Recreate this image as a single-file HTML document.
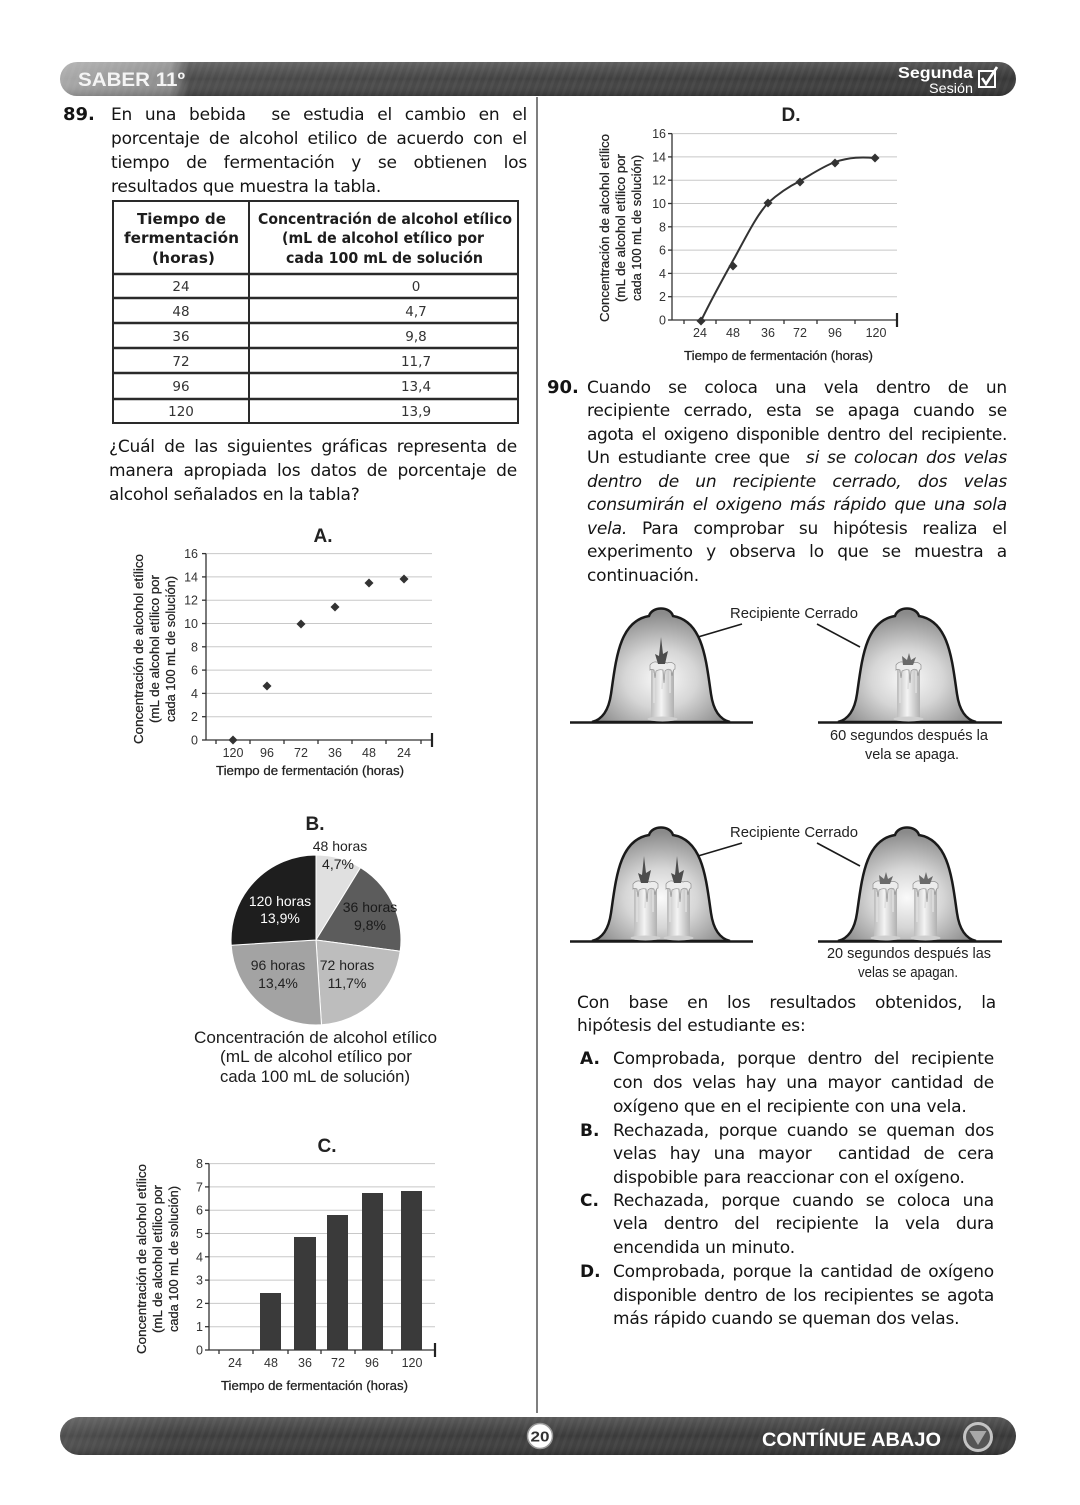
<!DOCTYPE html>
<html lang="es">
<head>
<meta charset="utf-8">
<style>
  html,body{margin:0;padding:0;background:#fff;}
  body{width:1080px;height:1505px;position:relative;overflow:hidden;}
  svg{position:absolute;left:0;top:0;}
  .l{position:absolute;font-family:"DejaVu Sans","Liberation Sans",sans-serif;font-size:17px;letter-spacing:-0.2px;line-height:24px;height:24px;color:#141414;white-space:nowrap;}
  .j{text-align:justify;text-align-last:justify;white-space:normal;}
  .b{font-weight:bold;font-size:18px;letter-spacing:0;}
  .ob{font-weight:bold;font-size:17px;letter-spacing:0;}
  i{font-style:italic;}
</style>
</head>
<body>
<svg width="1080" height="1505" viewBox="0 0 1080 1505" xmlns="http://www.w3.org/2000/svg">
  <defs>
    <linearGradient id="hg" x1="0" y1="0" x2="1" y2="0">
      <stop offset="0" stop-color="#a8a8a8"/>
      <stop offset="0.115" stop-color="#8c8c8c"/>
      <stop offset="0.135" stop-color="#4a4a4a"/>
      <stop offset="1" stop-color="#363636"/>
    </linearGradient>
    <linearGradient id="fg" x1="0" y1="0" x2="1" y2="0">
      <stop offset="0" stop-color="#4e4e4e"/>
      <stop offset="0.12" stop-color="#3d3d3d"/>
      <stop offset="1" stop-color="#383838"/>
    </linearGradient>
    <linearGradient id="hv" x1="0" y1="0" x2="0" y2="1">
      <stop offset="0" stop-color="#ffffff" stop-opacity="0.16"/>
      <stop offset="0.5" stop-color="#ffffff" stop-opacity="0"/>
      <stop offset="1" stop-color="#000000" stop-opacity="0.18"/>
    </linearGradient>
    <pattern id="st" width="7" height="7" patternUnits="userSpaceOnUse" patternTransform="rotate(20)">
      <rect width="3" height="7" fill="#ffffff" fill-opacity="0.035"/>
    </pattern>
    <radialGradient id="bg" cx="0.5" cy="0.62" r="0.58">
      <stop offset="0" stop-color="#fafafa"/>
      <stop offset="0.45" stop-color="#d6d6d6"/>
      <stop offset="1" stop-color="#8a8a8a"/>
    </radialGradient>
    <linearGradient id="cg" x1="0" y1="0" x2="1" y2="0">
      <stop offset="0" stop-color="#bdbdbd"/>
      <stop offset="0.45" stop-color="#f4f4f4"/>
      <stop offset="1" stop-color="#b0b0b0"/>
    </linearGradient>
    <path id="bell" d="M592,722 C604,719 609,708 611,694 C616,660 619,621 649,616 C652,606 670,606 673,616 C703,621 706,660 711,694 C713,708 718,719 730,722 Z" fill="url(#bg)" stroke="#1a1a1a" stroke-width="2.5"/>
    <g id="cand">
      <rect x="0" y="3" width="23" height="55" fill="url(#cg)"/>
      <path d="M3,12 L3,42 M19,10 L19,32 M12,9 L11,28" stroke="#dedede" stroke-width="1.6" fill="none"/>
      <path d="M-1,4 Q3,-1 8,2 Q12,0 16,2 Q21,0 24,4 L24,8 Q22,8 21,15 L20,9 Q17,7 14,10 L13,22 L12,9 Q8,8 5,10 L4,17 L3,9 Q0,8 -1,9 Z" fill="#ececec" stroke="#8f8f8f" stroke-width="0.7"/>
      <ellipse cx="11.5" cy="58" rx="15" ry="2.5" fill="#cfcfcf"/>
    </g>
    <path id="flame" d="M10,-24 L12,-7 L17,-10 L14,3 L7,3 L4,-7 L8,-5 Z" fill="#4d4d4d"/>
    <path id="smudge" d="M5,-5 L10,-1 L12,-8 L14,-1 L19,-4 L16,4 L6,4 Z" fill="#6a6a6a"/>
  </defs>

  <!-- HEADER -->
  <rect x="60" y="62" width="956" height="34" rx="17" fill="url(#hg)"/>
  <rect x="60" y="62" width="956" height="34" rx="17" fill="url(#st)"/>
  <rect x="60" y="62" width="956" height="34" rx="17" fill="url(#hv)"/>
  <text x="78" y="86" font-family="Liberation Sans, sans-serif" font-weight="bold" font-size="19" fill="#f4f4f4" textLength="107" lengthAdjust="spacingAndGlyphs">SABER 11º</text>
  <text x="898" y="78" font-family="Liberation Sans, sans-serif" font-weight="bold" font-size="16" fill="#ffffff" textLength="75" lengthAdjust="spacingAndGlyphs">Segunda</text>
  <text x="929" y="93" font-family="Liberation Sans, sans-serif" font-size="13.5" fill="#ffffff" textLength="44" lengthAdjust="spacingAndGlyphs">Sesión</text>
  <rect x="979" y="71" width="16" height="16" fill="none" stroke="#ffffff" stroke-width="2"/>
  <path d="M982,78 L986,84 L997,67" fill="none" stroke="#ffffff" stroke-width="2.6"/>

  <!-- column divider -->
  <line x1="537" y1="97" x2="537" y2="1413" stroke="#555" stroke-width="1.5"/>

  <!-- TABLE -->
  <rect x="113" y="201" width="405" height="222" fill="none" stroke="#2a2a2a" stroke-width="2"/>
  <line x1="249" y1="201" x2="249" y2="423" stroke="#2a2a2a" stroke-width="2"/>
  <g stroke="#2a2a2a" stroke-width="2.4">
    <line x1="113" y1="274" x2="518" y2="274"/>
    <line x1="113" y1="298" x2="518" y2="298"/>
    <line x1="113" y1="323" x2="518" y2="323"/>
    <line x1="113" y1="348" x2="518" y2="348"/>
    <line x1="113" y1="373" x2="518" y2="373"/>
    <line x1="113" y1="399" x2="518" y2="399"/>
  </g>
  <g font-family="DejaVu Sans, sans-serif" font-weight="bold" font-size="15" fill="#1c1c1c">
    <text x="137" y="224" textLength="89" lengthAdjust="spacingAndGlyphs">Tiempo de</text>
    <text x="124" y="243" textLength="115" lengthAdjust="spacingAndGlyphs">fermentación</text>
    <text x="152" y="263" textLength="63" lengthAdjust="spacingAndGlyphs">(horas)</text>
    <text x="258" y="224" textLength="254" lengthAdjust="spacingAndGlyphs">Concentración de alcohol etílico</text>
    <text x="282" y="243" textLength="202" lengthAdjust="spacingAndGlyphs">(mL de alcohol etílico por</text>
    <text x="286" y="263" textLength="197" lengthAdjust="spacingAndGlyphs">cada 100 mL de solución</text>
  </g>
  <g font-family="DejaVu Sans, sans-serif" font-size="13.5" fill="#333" text-anchor="middle">
    <text x="181" y="291">24</text><text x="416" y="291">0</text>
    <text x="181" y="316">48</text><text x="416" y="316">4,7</text>
    <text x="181" y="341">36</text><text x="416" y="341">9,8</text>
    <text x="181" y="366">72</text><text x="416" y="366">11,7</text>
    <text x="181" y="391">96</text><text x="416" y="391">13,4</text>
    <text x="181" y="416">120</text><text x="416" y="416">13,9</text>
  </g>

  <!-- CHART A -->
  <text x="323" y="542" text-anchor="middle" font-family="Liberation Sans, sans-serif" font-weight="bold" font-size="19" fill="#222">A.</text>
  <g stroke="#c8c8c8" stroke-width="1">
    <line x1="206" y1="716.7" x2="432" y2="716.7"/>
    <line x1="206" y1="693.4" x2="432" y2="693.4"/>
    <line x1="206" y1="670.1" x2="432" y2="670.1"/>
    <line x1="206" y1="646.8" x2="432" y2="646.8"/>
    <line x1="206" y1="623.5" x2="432" y2="623.5"/>
    <line x1="206" y1="600.2" x2="432" y2="600.2"/>
    <line x1="206" y1="576.9" x2="432" y2="576.9"/>
    <line x1="206" y1="553.6" x2="432" y2="553.6"/>
  </g>
  <g stroke="#333" stroke-width="1.3">
    <line x1="206" y1="553.6" x2="206" y2="740"/>
    <line x1="206" y1="740" x2="432" y2="740"/>
    <line x1="202" y1="740" x2="206" y2="740"/>
    <line x1="202" y1="716.7" x2="206" y2="716.7"/>
    <line x1="202" y1="693.4" x2="206" y2="693.4"/>
    <line x1="202" y1="670.1" x2="206" y2="670.1"/>
    <line x1="202" y1="646.8" x2="206" y2="646.8"/>
    <line x1="202" y1="623.5" x2="206" y2="623.5"/>
    <line x1="202" y1="600.2" x2="206" y2="600.2"/>
    <line x1="202" y1="576.9" x2="206" y2="576.9"/>
    <line x1="202" y1="553.6" x2="206" y2="553.6"/>
    <line x1="216" y1="740" x2="216" y2="744"/>
    <line x1="250" y1="740" x2="250" y2="744"/>
    <line x1="284" y1="740" x2="284" y2="744"/>
    <line x1="318" y1="740" x2="318" y2="744"/>
    <line x1="352" y1="740" x2="352" y2="744"/>
    <line x1="386" y1="740" x2="386" y2="744"/>
    <line x1="421" y1="740" x2="421" y2="744"/>
  </g>
  <line x1="432" y1="733" x2="432" y2="747" stroke="#222" stroke-width="2.2"/>
  <g font-family="Liberation Sans, sans-serif" font-size="12.5" fill="#333" text-anchor="end">
    <text x="198" y="744.5">0</text><text x="198" y="721.2">2</text><text x="198" y="697.9">4</text>
    <text x="198" y="674.6">6</text><text x="198" y="651.3">8</text><text x="198" y="628">10</text>
    <text x="198" y="604.7">12</text><text x="198" y="581.4">14</text><text x="198" y="558.1">16</text>
  </g>
  <g font-family="Liberation Sans, sans-serif" font-size="12.5" fill="#333" text-anchor="middle">
    <text x="233" y="757">120</text><text x="267" y="757">96</text><text x="301" y="757">72</text>
    <text x="335" y="757">36</text><text x="369" y="757">48</text><text x="404" y="757">24</text>
  </g>
  <g fill="#333">
    <polygon points="233,735.5 237.5,740 233,744.5 228.5,740"/>
    <polygon points="267,681.5 271.5,686 267,690.5 262.5,686"/>
    <polygon points="301,619.5 305.5,624 301,628.5 296.5,624"/>
    <polygon points="335,602.5 339.5,607 335,611.5 330.5,607"/>
    <polygon points="369,578.5 373.5,583 369,587.5 364.5,583"/>
    <polygon points="404,574.5 408.5,579 404,583.5 399.5,579"/>
  </g>
  <text x="216" y="775" font-family="Liberation Sans, sans-serif" font-size="13" fill="#222" stroke="#222" stroke-width="0.25" textLength="188" lengthAdjust="spacingAndGlyphs">Tiempo de fermentación (horas)</text>
  <g font-family="Liberation Sans, sans-serif" font-size="12.5" fill="#222" stroke="#222" stroke-width="0.25">
    <text transform="translate(143,649) rotate(-90)" x="-95" y="0" textLength="190" lengthAdjust="spacingAndGlyphs">Concentración de alcohol etílico</text>
    <text transform="translate(159,649) rotate(-90)" x="-74" y="0" textLength="148" lengthAdjust="spacingAndGlyphs">(mL de alcohol etílico por</text>
    <text transform="translate(175,649) rotate(-90)" x="-73" y="0" textLength="146" lengthAdjust="spacingAndGlyphs">cada 100 mL de solución)</text>
  </g>

  <!-- CHART B (pie) -->
  <text x="315" y="830" text-anchor="middle" font-family="Liberation Sans, sans-serif" font-weight="bold" font-size="19" fill="#222">B.</text>
  <g stroke="#ffffff" stroke-width="1">
    <path d="M316,940 L316,855 A85,85 0 0 1 360.5,867.6 Z" fill="#e0e0e0"/>
    <path d="M316,940 L360.5,867.6 A85,85 0 0 1 400.2,951.2 Z" fill="#5c5c5c"/>
    <path d="M316,940 L400.2,951.2 A85,85 0 0 1 321.5,1024.8 Z" fill="#bdbdbd"/>
    <path d="M316,940 L321.5,1024.8 A85,85 0 0 1 231.2,945.2 Z" fill="#a3a3a3"/>
    <path d="M316,940 L231.2,945.2 A85,85 0 0 1 316,855 Z" fill="#1e1e1e"/>
  </g>
  <g font-family="Liberation Sans, sans-serif" font-size="14" text-anchor="middle">
    <text x="340" y="851" fill="#222">48 horas</text>
    <text x="338" y="869" fill="#222">4,7%</text>
    <text x="280" y="906" fill="#ffffff">120 horas</text>
    <text x="280" y="923" fill="#ffffff">13,9%</text>
    <text x="370" y="912" fill="#1a1a1a">36 horas</text>
    <text x="370" y="930" fill="#1a1a1a">9,8%</text>
    <text x="278" y="970" fill="#222">96 horas</text>
    <text x="278" y="988" fill="#222">13,4%</text>
    <text x="347" y="970" fill="#222">72 horas</text>
    <text x="347" y="988" fill="#222">11,7%</text>
  </g>
  <g font-family="Liberation Sans, sans-serif" font-size="17" fill="#1c1c1c">
    <text x="194" y="1043" textLength="243" lengthAdjust="spacingAndGlyphs">Concentración de alcohol etílico</text>
    <text x="220" y="1062" textLength="192" lengthAdjust="spacingAndGlyphs">(mL de alcohol etílico por</text>
    <text x="220" y="1082" textLength="190" lengthAdjust="spacingAndGlyphs">cada 100 mL de solución)</text>
  </g>

  <!-- CHART C -->
  <text x="327" y="1152" text-anchor="middle" font-family="Liberation Sans, sans-serif" font-weight="bold" font-size="19" fill="#222">C.</text>
  <g stroke="#c8c8c8" stroke-width="1">
    <line x1="209" y1="1326.7" x2="435" y2="1326.7"/>
    <line x1="209" y1="1303.4" x2="435" y2="1303.4"/>
    <line x1="209" y1="1280.1" x2="435" y2="1280.1"/>
    <line x1="209" y1="1256.8" x2="435" y2="1256.8"/>
    <line x1="209" y1="1233.5" x2="435" y2="1233.5"/>
    <line x1="209" y1="1210.2" x2="435" y2="1210.2"/>
    <line x1="209" y1="1186.9" x2="435" y2="1186.9"/>
    <line x1="209" y1="1163.6" x2="435" y2="1163.6"/>
  </g>
  <g fill="#3a3a3a">
    <rect x="260" y="1293" width="21" height="57"/>
    <rect x="294" y="1237" width="22" height="113"/>
    <rect x="327" y="1215" width="21" height="135"/>
    <rect x="362" y="1193" width="21" height="157"/>
    <rect x="401" y="1191" width="21" height="159"/>
  </g>
  <g stroke="#333" stroke-width="1.3">
    <line x1="209" y1="1163.6" x2="209" y2="1350"/>
    <line x1="209" y1="1350" x2="435" y2="1350"/>
    <line x1="205" y1="1350" x2="209" y2="1350"/>
    <line x1="205" y1="1326.7" x2="209" y2="1326.7"/>
    <line x1="205" y1="1303.4" x2="209" y2="1303.4"/>
    <line x1="205" y1="1280.1" x2="209" y2="1280.1"/>
    <line x1="205" y1="1256.8" x2="209" y2="1256.8"/>
    <line x1="205" y1="1233.5" x2="209" y2="1233.5"/>
    <line x1="205" y1="1210.2" x2="209" y2="1210.2"/>
    <line x1="205" y1="1186.9" x2="209" y2="1186.9"/>
    <line x1="205" y1="1163.6" x2="209" y2="1163.6"/>
    <line x1="219" y1="1350" x2="219" y2="1354"/>
    <line x1="253" y1="1350" x2="253" y2="1354"/>
    <line x1="288" y1="1350" x2="288" y2="1354"/>
    <line x1="321" y1="1350" x2="321" y2="1354"/>
    <line x1="355" y1="1350" x2="355" y2="1354"/>
    <line x1="392" y1="1350" x2="392" y2="1354"/>
  </g>
  <line x1="435" y1="1343" x2="435" y2="1357" stroke="#222" stroke-width="2.2"/>
  <g font-family="Liberation Sans, sans-serif" font-size="12.5" fill="#333" text-anchor="end">
    <text x="203" y="1354.5">0</text><text x="203" y="1331.2">1</text><text x="203" y="1307.9">2</text>
    <text x="203" y="1284.6">3</text><text x="203" y="1261.3">4</text><text x="203" y="1238">5</text>
    <text x="203" y="1214.7">6</text><text x="203" y="1191.4">7</text><text x="203" y="1168.1">8</text>
  </g>
  <g font-family="Liberation Sans, sans-serif" font-size="12.5" fill="#333" text-anchor="middle">
    <text x="235" y="1367">24</text><text x="271" y="1367">48</text><text x="305" y="1367">36</text>
    <text x="338" y="1367">72</text><text x="372" y="1367">96</text><text x="412" y="1367">120</text>
  </g>
  <text x="221" y="1390" font-family="Liberation Sans, sans-serif" font-size="13" fill="#222" stroke="#222" stroke-width="0.25" textLength="187" lengthAdjust="spacingAndGlyphs">Tiempo de fermentación (horas)</text>
  <g font-family="Liberation Sans, sans-serif" font-size="12.5" fill="#222" stroke="#222" stroke-width="0.25">
    <text transform="translate(146,1259) rotate(-90)" x="-95" y="0" textLength="190" lengthAdjust="spacingAndGlyphs">Concentración de alcohol etílico</text>
    <text transform="translate(162,1259) rotate(-90)" x="-74" y="0" textLength="148" lengthAdjust="spacingAndGlyphs">(mL de alcohol etílico por</text>
    <text transform="translate(178,1259) rotate(-90)" x="-73" y="0" textLength="146" lengthAdjust="spacingAndGlyphs">cada 100 mL de solución)</text>
  </g>

  <!-- CHART D -->
  <text x="791" y="121" text-anchor="middle" font-family="Liberation Sans, sans-serif" font-weight="bold" font-size="19" fill="#222">D.</text>
  <g stroke="#c8c8c8" stroke-width="1">
    <line x1="672" y1="296.7" x2="897" y2="296.7"/>
    <line x1="672" y1="273.4" x2="897" y2="273.4"/>
    <line x1="672" y1="250.1" x2="897" y2="250.1"/>
    <line x1="672" y1="226.8" x2="897" y2="226.8"/>
    <line x1="672" y1="203.5" x2="897" y2="203.5"/>
    <line x1="672" y1="180.2" x2="897" y2="180.2"/>
    <line x1="672" y1="156.9" x2="897" y2="156.9"/>
    <line x1="672" y1="133.6" x2="897" y2="133.6"/>
  </g>
  <g stroke="#333" stroke-width="1.3">
    <line x1="672" y1="133.6" x2="672" y2="320"/>
    <line x1="672" y1="320" x2="897" y2="320"/>
    <line x1="668" y1="320" x2="672" y2="320"/>
    <line x1="668" y1="296.7" x2="672" y2="296.7"/>
    <line x1="668" y1="273.4" x2="672" y2="273.4"/>
    <line x1="668" y1="250.1" x2="672" y2="250.1"/>
    <line x1="668" y1="226.8" x2="672" y2="226.8"/>
    <line x1="668" y1="203.5" x2="672" y2="203.5"/>
    <line x1="668" y1="180.2" x2="672" y2="180.2"/>
    <line x1="668" y1="156.9" x2="672" y2="156.9"/>
    <line x1="668" y1="133.6" x2="672" y2="133.6"/>
    <line x1="684" y1="320" x2="684" y2="324"/>
    <line x1="716" y1="320" x2="716" y2="324"/>
    <line x1="750" y1="320" x2="750" y2="324"/>
    <line x1="784" y1="320" x2="784" y2="324"/>
    <line x1="817" y1="320" x2="817" y2="324"/>
    <line x1="855" y1="320" x2="855" y2="324"/>
  </g>
  <line x1="897" y1="313" x2="897" y2="327" stroke="#222" stroke-width="2.2"/>
  <g font-family="Liberation Sans, sans-serif" font-size="12.5" fill="#333" text-anchor="end">
    <text x="666" y="324.5">0</text><text x="666" y="301.2">2</text><text x="666" y="277.9">4</text>
    <text x="666" y="254.6">6</text><text x="666" y="231.3">8</text><text x="666" y="208">10</text>
    <text x="666" y="184.7">12</text><text x="666" y="161.4">14</text><text x="666" y="138.1">16</text>
  </g>
  <g font-family="Liberation Sans, sans-serif" font-size="12.5" fill="#333" text-anchor="middle">
    <text x="700" y="337">24</text><text x="733" y="337">48</text><text x="768" y="337">36</text>
    <text x="800" y="337">72</text><text x="835" y="337">96</text><text x="876" y="337">120</text>
  </g>
  <path d="M701,321 C712,298 725,275 735,257 C748,233 757,215 768,203 C780,192 790,186 800,181 C812,174 822,167 835,162 C850,157 862,157 875,158" fill="none" stroke="#333" stroke-width="2"/>
  <g fill="#333">
    <polygon points="701,316.5 705.5,321 701,325.5 696.5,321"/>
    <polygon points="733,261.5 737.5,266 733,270.5 728.5,266"/>
    <polygon points="768,198.5 772.5,203 768,207.5 763.5,203"/>
    <polygon points="800,177.5 804.5,182 800,186.5 795.5,182"/>
    <polygon points="835,158.5 839.5,163 835,167.5 830.5,163"/>
    <polygon points="875,153.5 879.5,158 875,162.5 870.5,158"/>
  </g>
  <text x="684" y="360" font-family="Liberation Sans, sans-serif" font-size="13" fill="#222" stroke="#222" stroke-width="0.25" textLength="189" lengthAdjust="spacingAndGlyphs">Tiempo de fermentación (horas)</text>
  <g font-family="Liberation Sans, sans-serif" font-size="12.5" fill="#222" stroke="#222" stroke-width="0.25">
    <text transform="translate(609,228) rotate(-90)" x="-94" y="0" textLength="188" lengthAdjust="spacingAndGlyphs">Concentración de alcohol etílico</text>
    <text transform="translate(625,228) rotate(-90)" x="-74" y="0" textLength="148" lengthAdjust="spacingAndGlyphs">(mL de alcohol etílico por</text>
    <text transform="translate(641,228) rotate(-90)" x="-73" y="0" textLength="146" lengthAdjust="spacingAndGlyphs">cada 100 mL de solución)</text>
  </g>

  <!-- BELLS set 1 -->
  <use href="#bell"/>
  <use href="#bell" x="246"/>
  <line x1="570" y1="722.5" x2="753" y2="722.5" stroke="#1a1a1a" stroke-width="2.5"/>
  <line x1="818" y1="722.5" x2="1002" y2="722.5" stroke="#1a1a1a" stroke-width="2.5"/>
  <use href="#cand" x="651" y="661"/>
  <use href="#flame" x="651" y="661"/>
  <use href="#cand" x="897" y="661"/>
  <use href="#smudge" x="897" y="661"/>
  <line x1="698" y1="637" x2="742" y2="624" stroke="#1a1a1a" stroke-width="1.6"/>
  <line x1="817" y1="624" x2="860" y2="647" stroke="#1a1a1a" stroke-width="1.6"/>
  <g font-family="Liberation Sans, sans-serif" font-size="15" fill="#222">
    <text x="730" y="618" textLength="128" lengthAdjust="spacingAndGlyphs">Recipiente Cerrado</text>
    <text x="830" y="740" textLength="158" lengthAdjust="spacingAndGlyphs">60 segundos después la</text>
    <text x="865" y="759" textLength="94" lengthAdjust="spacingAndGlyphs">vela se apaga.</text>
  </g>

  <!-- BELLS set 2 -->
  <use href="#bell" y="219"/>
  <use href="#bell" x="246" y="219"/>
  <line x1="570" y1="941.5" x2="753" y2="941.5" stroke="#1a1a1a" stroke-width="2.5"/>
  <line x1="818" y1="941.5" x2="1002" y2="941.5" stroke="#1a1a1a" stroke-width="2.5"/>
  <use href="#cand" x="634" y="880"/>
  <use href="#flame" x="634" y="880"/>
  <use href="#cand" x="667" y="880"/>
  <use href="#flame" x="667" y="880"/>
  <use href="#cand" x="874" y="880"/>
  <use href="#smudge" x="874" y="880"/>
  <use href="#cand" x="914" y="880"/>
  <use href="#smudge" x="914" y="880"/>
  <line x1="698" y1="856" x2="742" y2="843" stroke="#1a1a1a" stroke-width="1.6"/>
  <line x1="817" y1="843" x2="860" y2="866" stroke="#1a1a1a" stroke-width="1.6"/>
  <g font-family="Liberation Sans, sans-serif" font-size="15" fill="#222">
    <text x="730" y="837" textLength="128" lengthAdjust="spacingAndGlyphs">Recipiente Cerrado</text>
    <text x="827" y="958" textLength="164" lengthAdjust="spacingAndGlyphs">20 segundos después las</text>
    <text x="858" y="977" textLength="100" lengthAdjust="spacingAndGlyphs">velas se apagan.</text>
  </g>

  <!-- FOOTER -->
  <rect x="60" y="1417" width="956" height="38" rx="19" fill="url(#fg)"/>
  <rect x="60" y="1417" width="956" height="38" rx="19" fill="url(#st)"/>
  <rect x="60" y="1417" width="956" height="38" rx="19" fill="url(#hv)"/>
  <circle cx="540" cy="1436" r="12.5" fill="#ffffff" stroke="#9a9a9a" stroke-width="1.5"/>
  <text x="540" y="1441.5" text-anchor="middle" font-family="Liberation Sans, sans-serif" font-weight="bold" font-size="15" fill="#333" textLength="19" lengthAdjust="spacingAndGlyphs">20</text>
  <text x="762" y="1446" font-family="Liberation Sans, sans-serif" font-weight="bold" font-size="19" fill="#ffffff" textLength="179" lengthAdjust="spacingAndGlyphs">CONTÍNUE ABAJO</text>
  <circle cx="978" cy="1437" r="15" fill="#c4c4c4"/>
  <circle cx="978" cy="1437" r="12" fill="#555555"/>
  <polygon points="969.5,1431 986.5,1431 978,1445" fill="#a8a8a8"/>
</svg>

<!-- Question 89 -->
<div class="l b" style="left:63px;top:102.5px;">89.</div>
<div class="l j" style="left:111px;top:102.5px;width:416px;">En una bebida&nbsp; se estudia el cambio en el</div>
<div class="l j" style="left:111px;top:126.5px;width:416px;">porcentaje de alcohol etilico de acuerdo con el</div>
<div class="l j" style="left:111px;top:150.5px;width:416px;">tiempo de fermentación y se obtienen los</div>
<div class="l" style="left:111px;top:174.5px;">resultados que muestra la tabla.</div>

<div class="l j" style="left:109px;top:434.5px;width:408px;">¿Cuál de las siguientes gráficas representa de</div>
<div class="l j" style="left:109px;top:458.5px;width:408px;">manera apropiada los datos de porcentaje de</div>
<div class="l" style="left:109px;top:482.5px;">alcohol señalados en la tabla?</div>

<!-- Question 90 -->
<div class="l b" style="left:547px;top:375.5px;">90.</div>
<div class="l j" style="left:587px;top:375.5px;width:420px;">Cuando se coloca una vela dentro de un</div>
<div class="l j" style="left:587px;top:399px;width:420px;">recipiente cerrado, esta se apaga cuando se</div>
<div class="l j" style="left:587px;top:422.5px;width:420px;letter-spacing:-0.4px;">agota el oxigeno disponible dentro del recipiente.</div>
<div class="l j" style="left:587px;top:446px;width:420px;">Un estudiante cree que&nbsp; <i>si se colocan dos velas</i></div>
<div class="l j" style="left:587px;top:469.5px;width:420px;"><i>dentro de un recipiente cerrado, dos velas</i></div>
<div class="l j" style="left:587px;top:493px;width:420px;"><i>consumirán el oxigeno más rápido que una sola</i></div>
<div class="l j" style="left:587px;top:516.5px;width:420px;"><i>vela.</i> Para comprobar su hipótesis realiza el</div>
<div class="l j" style="left:587px;top:540px;width:420px;">experimento y observa lo que se muestra a</div>
<div class="l" style="left:587px;top:563.5px;">continuación.</div>

<div class="l j" style="left:577px;top:990.5px;width:419px;">Con base en los resultados obtenidos, la</div>
<div class="l" style="left:577px;top:1013.5px;">hipótesis del estudiante es:</div>

<div class="l ob" style="left:580px;top:1046.5px;">A.</div>
<div class="l j" style="left:613px;top:1046.5px;width:381px;">Comprobada, porque dentro del recipiente</div>
<div class="l j" style="left:613px;top:1071px;width:381px;">con dos velas hay una mayor cantidad de</div>
<div class="l" style="left:613px;top:1094.5px;">oxígeno que en el recipiente con una vela.</div>

<div class="l ob" style="left:580px;top:1118.5px;">B.</div>
<div class="l j" style="left:613px;top:1118.5px;width:381px;">Rechazada, porque cuando se queman dos</div>
<div class="l j" style="left:613px;top:1141.5px;width:381px;">velas hay una mayor&nbsp; cantidad de cera</div>
<div class="l" style="left:613px;top:1165.5px;">dispobible para reaccionar con el oxígeno.</div>

<div class="l ob" style="left:580px;top:1188.5px;">C.</div>
<div class="l j" style="left:613px;top:1188.5px;width:381px;">Rechazada, porque cuando se coloca una</div>
<div class="l j" style="left:613px;top:1212px;width:381px;">vela dentro del recipiente la vela dura</div>
<div class="l" style="left:613px;top:1235.5px;">encendida un minuto.</div>

<div class="l ob" style="left:580px;top:1259.5px;">D.</div>
<div class="l j" style="left:613px;top:1259.5px;width:381px;">Comprobada, porque la cantidad de oxígeno</div>
<div class="l j" style="left:613px;top:1283.5px;width:381px;letter-spacing:-0.35px;">disponible dentro de los recipientes se agota</div>
<div class="l" style="left:613px;top:1306.5px;">más rápido cuando se queman dos velas.</div>
</body>
</html>
